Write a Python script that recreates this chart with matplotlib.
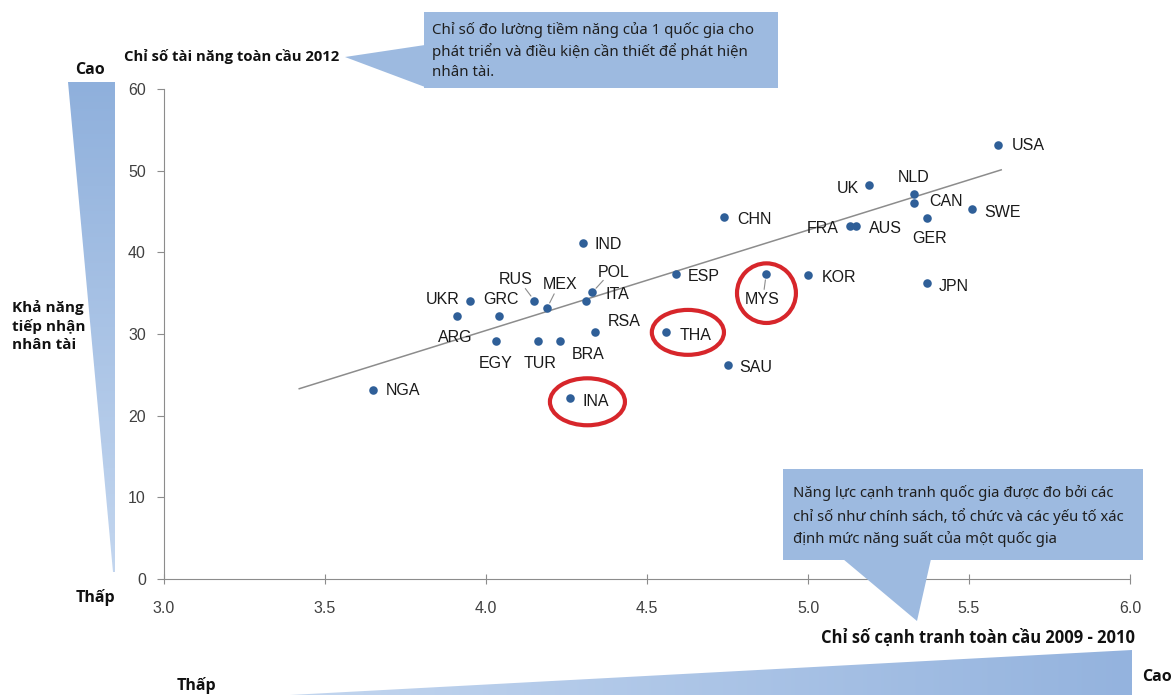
import numpy as np
import matplotlib
matplotlib.use("Agg")
import matplotlib.pyplot as plt
from matplotlib.patches import Polygon, Ellipse, Rectangle

plt.rcParams["font.family"] = ["Noto Sans", "DejaVu Sans"]

#  Data: competitiveness index (x) vs talent index (y)
countries = ["NGA", "UKR", "ARG", "GRC", "EGY", "TUR", "BRA", "RSA", "RUS", "MEX",
             "POL", "ITA", "INA", "THA", "ESP", "IND", "CHN", "SAU", "MYS", "KOR",
             "JPN", "UK", "NLD", "CAN", "FRA", "AUS", "GER", "SWE", "USA"]
gci = [3.65, 3.95, 3.91, 4.04, 4.03, 4.16, 4.23, 4.34, 4.15, 4.19,
       4.33, 4.31, 4.26, 4.56, 4.59, 4.30, 4.74, 4.75, 4.87, 5.00,
       5.37, 5.19, 5.33, 5.33, 5.13, 5.15, 5.37, 5.51, 5.59]
talent = [23.1, 34.1, 32.2, 32.2, 29.1, 29.1, 29.1, 30.2, 34.1, 33.2,
          35.1, 34.1, 22.2, 30.2, 37.3, 41.2, 44.3, 26.2, 37.3, 37.2,
          36.2, 48.2, 47.2, 46.1, 43.2, 43.2, 44.2, 45.3, 53.2]

# trend line end points
trend_x = [3.42, 5.60]
trend_y = [23.3, 50.1]

x_ticks = [3.0, 3.5, 4.0, 4.5, 5.0, 5.5, 6.0]
y_ticks = [0, 10, 20, 30, 40, 50, 60]

highlighted = ["INA", "THA", "MYS"]

#  Label layout: pixel offsets from the dot, alignment, leader line
label_pos = {
    "NGA": (12, 0, "left"),    "UKR": (-10, 1, "right"),  "ARG": (16, -21, "right"),
    "GRC": (2, 17, "center"),  "EGY": (0, -22, "center"), "TUR": (3, -22, "center"),
    "BRA": (28, -13, "center"), "RSA": (12, 11, "left"),  "RUS": (-19, 21, "center"),
    "MEX": (13, 23, "center"), "POL": (21, 20, "center"), "ITA": (20, 6, "left"),
    "INA": (13, -4, "left"),   "THA": (13, -3, "left"),   "ESP": (12, -2, "left"),
    "IND": (12, -2, "left"),   "CHN": (13, -2, "left"),   "SAU": (12, -2, "left"),
    "MYS": (-4, -25, "center"), "KOR": (14, -2, "left"),  "JPN": (12, -3, "left"),
    "UK": (-10, -3, "right"),  "NLD": (-1, 16, "center"), "CAN": (15, 1, "left"),
    "FRA": (-11, -2, "right"), "AUS": (13, -2, "left"),   "GER": (2, -20, "center"),
    "SWE": (12, -3, "left"),   "USA": (14, -1, "left"),
}
leaders = {"RUS": (-9, 12), "MEX": (7, 14), "POL": (11, 12), "MYS": (-2, -15)}

# highlight rings: centre x, centre y, width, height (data units)
rings = {"INA": (4.315, 21.7, 0.233, 5.75),
         "THA": (4.627, 30.2, 0.224, 5.5),
         "MYS": (4.871, 35.0, 0.183, 7.3)}

W, H = 1174, 695
fig = plt.figure(figsize=(W / 100, H / 100), dpi=100)
ax = fig.add_axes([164 / W, 1 - 579 / H, (1130 - 164) / W, (579 - 89) / H])
ax.patch.set_alpha(0)

dot_color = "#2f5f98"
ax.plot(trend_x, trend_y, color="#8c8c8c", lw=1.1, zorder=1)
ax.scatter(gci, talent, s=38, color=dot_color, zorder=3, linewidths=0)

arial = ["Liberation Sans", "DejaVu Sans"]
for name, x, y in zip(countries, gci, talent):
    dx, dy, ha = label_pos[name]
    ax.annotate(name, (x, y), xytext=(dx, dy), textcoords="offset pixels",
                ha=ha, va="center", fontsize=11.5, family=arial, color="#1a1a1a", zorder=4)
    if name in leaders:
        lx, ly = leaders[name]
        ax.annotate("", (x, y), xytext=(lx, ly), textcoords="offset pixels",
                    arrowprops=dict(arrowstyle="-", color="#8c8c8c", lw=0.8,
                                    shrinkA=0, shrinkB=4))

for name in highlighted:
    cx, cy, w, h = rings[name]
    ax.add_patch(Ellipse((cx, cy), w, h, fill=False, edgecolor="#d7262b", lw=3, zorder=5))

ax.set_xlim(3.0, 6.0)
ax.set_ylim(0, 60)
ax.set_xticks(x_ticks)
ax.set_yticks(y_ticks)
ax.set_xticklabels([f"{v:.1f}" for v in x_ticks])
ax.set_yticklabels([str(v) for v in y_ticks])
for s in ["top", "right"]:
    ax.spines[s].set_visible(False)
for s in ["left", "bottom"]:
    ax.spines[s].set_color("#8c8c8c")
ax.tick_params(axis="x", direction="inout", length=7, color="#8c8c8c", pad=12,
               labelsize=11.5, labelcolor="#404040")
ax.tick_params(axis="y", direction="out", length=5, color="#8c8c8c", pad=8,
               labelsize=11.5, labelcolor="#404040")
for lbl in ax.get_xticklabels() + ax.get_yticklabels():
    lbl.set_family(arial)

#  Overlay in pixel coordinates for the callouts and wedges
ov = fig.add_axes([0, 0, 1, 1], zorder=10)
ov.set_xlim(0, W)
ov.set_ylim(H, 0)
ov.axis("off")

box_blue = "#9dbae0"


def gradient_poly(pts, c_from, c_to, horizontal):
    poly = Polygon(pts, closed=True, facecolor="none", edgecolor="none")
    ov.add_patch(poly)
    xs = [p[0] for p in pts]
    ys = [p[1] for p in pts]
    c0 = np.array(matplotlib.colors.to_rgb(c_from))
    c1 = np.array(matplotlib.colors.to_rgb(c_to))
    t = np.linspace(0, 1, 256)
    grad = c0[None, :] * (1 - t[:, None]) + c1[None, :] * t[:, None]
    img = grad[None, :, :] if horizontal else grad[:, None, :]
    im = ov.imshow(img, extent=(min(xs), max(xs), max(ys), min(ys)),
                   aspect="auto", interpolation="bilinear", zorder=1)
    im.set_clip_path(poly)


# vertical wedge (left), dark at top
gradient_poly([(68, 82), (115, 82), (115, 572), (113, 572)], "#8fb0dc", "#c3d6ef", False)
# horizontal wedge (bottom), dark at right
gradient_poly([(290, 695), (1132, 650), (1132, 695)], "#c3d6ef", "#94b3de", True)
ov.set_xlim(0, W)
ov.set_ylim(H, 0)

# top callout
ov.add_patch(Polygon([(345, 57), (425, 45), (425, 87)], closed=True,
                     facecolor=box_blue, edgecolor="none"))
ov.add_patch(Rectangle((424, 12), 354, 76, facecolor=box_blue, edgecolor="none"))
ov.text(432, 51, "Chỉ số đo lường tiềm năng của 1 quốc gia cho\n"
                 "phát triển và điều kiện cần thiết để phát hiện\nnhân tài.",
        ha="left", va="center", fontsize=10.8, color="#1f1f1f", linespacing=1.4)

# bottom callout
ov.add_patch(Rectangle((783, 469), 360, 91, facecolor=box_blue, edgecolor="none"))
ov.add_patch(Polygon([(843, 559), (931, 559), (917, 621)], closed=True,
                     facecolor=box_blue, edgecolor="none"))
ov.text(793, 516, "Năng lực cạnh tranh quốc gia được đo bởi các\n"
                  "chỉ số như chính sách, tổ chức và các yếu tố xác\n"
                  "định mức năng suất của một quốc gia",
        ha="left", va="center", fontsize=10.7, color="#1f1f1f", linespacing=1.5)

bold = dict(fontweight="bold", color="#111111", family=["Open Sans", "Noto Sans", "DejaVu Sans"])
ov.text(124, 56, "Chỉ số tài năng toàn cầu 2012", ha="left", va="center", fontsize=10.7, **bold)
ov.text(1135, 638, "Chỉ số cạnh tranh toàn cầu 2009 - 2010", ha="right", va="center",
        fontsize=11.9, **bold)
ov.text(90, 70, "Cao", ha="center", va="center", fontsize=11.5, **bold)
ov.text(95, 598, "Thấp", ha="center", va="center", fontsize=11.5, **bold)
ov.text(12, 326, "Khả năng\ntiếp nhận\nnhân tài", ha="left", va="center",
        fontsize=11, linespacing=1.35, **bold)
ov.text(196, 686, "Thấp", ha="center", va="center", fontsize=11.5, **bold)
ov.text(1157, 677, "Cao", ha="center", va="center", fontsize=11.5, **bold)

fig.savefig("out.png", dpi=100)
